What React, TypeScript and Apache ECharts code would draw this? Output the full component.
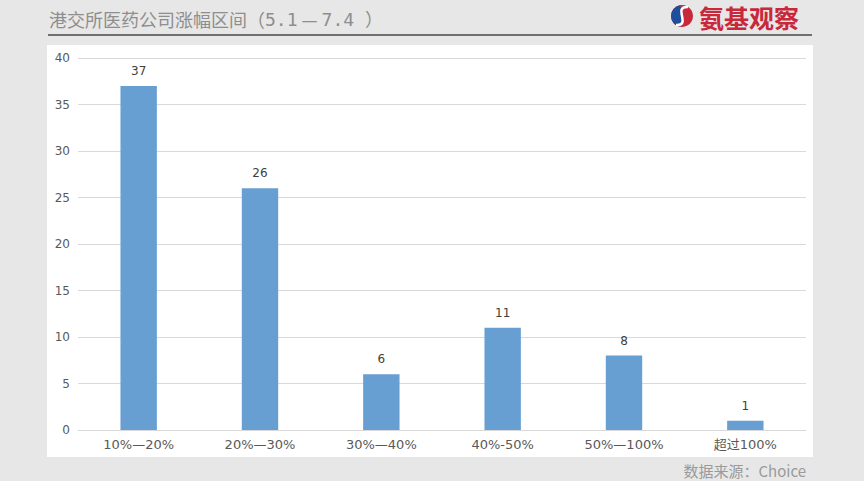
import React, { useEffect, useRef } from "react";
import * as echarts from "echarts";

const categories = ["10%—20%", "20%—30%", "30%—40%", "40%-50%", "50%—100%", "超过100%"];
const counts = [37, 26, 6, 11, 8, 1];
const yTicks = { min: 0, max: 40, interval: 5 };
const titleMain = "港交所医药公司涨幅区间";
const titleRange = ["（", "5.1", "—", "7.4", " ）"];
const brandText = "氨基观察";
const sourceText = "数据来源：Choice";

export default function App() {
  const ref = useRef<HTMLDivElement>(null);
  useEffect(() => {
    if (!ref.current) return;
    const chart = echarts.init(ref.current, undefined, { renderer: "svg" });
    const cjk = '"Noto Sans CJK SC", "DejaVu Sans", sans-serif';
    const num = '"DejaVu Sans", "Noto Sans CJK SC", sans-serif';
    const mono = '"DejaVu Sans Mono", "Noto Sans CJK SC", monospace';
    const titleFill = "#8e8e8e";
    chart.setOption({
      animation: false,
      backgroundColor: "#e7e7e7",
      graphic: [
        { type: "rect", shape: { x: 47, y: 45, width: 766, height: 412 }, style: { fill: "#ffffff" }, z: -10 },
        { type: "rect", shape: { x: 48, y: 34, width: 764, height: 2 }, style: { fill: "#707070" } },
        {
          type: "text",
          x: 49,
          y: 19,
          style: {
            text:
              `{a|${titleMain}}{a|${titleRange[0]}}{m|${titleRange[1]}}{d|${titleRange[2]}}{m|${titleRange[3]}}{m|${titleRange[4]}}`,
            verticalAlign: "middle",
            rich: {
              a: { font: `18px ${cjk}`, fill: titleFill },
              m: { font: `18px ${mono}`, fill: titleFill },
              d: { font: `18px ${cjk}`, fill: titleFill, padding: [0, 4, 0, 4] },
            },
          },
        },
        { type: "circle", shape: { cx: 682, cy: 16, r: 11 }, style: { fill: "#c9283b" } },
        { type: "sector", shape: { cx: 682, cy: 16, r: 11, r0: 0, startAngle: Math.PI * 0.55, endAngle: Math.PI * 1.45 }, style: { fill: "#1f4f9c" } },
        { type: "bezierCurve", shape: { x1: 688, y1: 7, cpx1: 672, cpy1: 6, cpx2: 692, cpy2: 26, x2: 676, y2: 25 }, style: { stroke: "#ffffff", lineWidth: 2.5, fill: "none" } },
        { type: "text", x: 699, y: 17, style: { text: brandText, font: `bold 25px ${cjk}`, fill: "#c9283b", verticalAlign: "middle" } },
        { type: "text", x: 806, y: 470, style: { text: sourceText, font: `15px ${cjk}`, fill: "#9a9a9a", align: "right", verticalAlign: "middle" } },
      ],
      grid: { left: 78, right: 58, top: 58, bottom: 51 },
      xAxis: {
        type: "category",
        data: categories,
        axisLine: { lineStyle: { color: "#d9d9d9" } },
        axisTick: { show: false },
        axisLabel: { color: "#595959", fontSize: 13, fontFamily: num, margin: 8 },
      },
      yAxis: {
        type: "value",
        min: yTicks.min,
        max: yTicks.max,
        interval: yTicks.interval,
        axisLine: { show: false },
        axisTick: { show: false },
        splitLine: { lineStyle: { color: "#d9d9d9" } },
        axisLabel: { color: "#595959", fontSize: 12, fontFamily: num, margin: 8 },
      },
      series: [
        {
          type: "bar",
          data: counts,
          barWidth: "30%",
          itemStyle: { color: "#679fd3" },
          label: { show: true, position: "top", distance: 9, color: "#404040", fontSize: 12, fontFamily: num },
        },
      ],
    });
    return () => chart.dispose();
  }, []);
  return <div ref={ref} style={{ position: "absolute", left: 0, top: 0, width: 864, height: 481 }} />;
}
